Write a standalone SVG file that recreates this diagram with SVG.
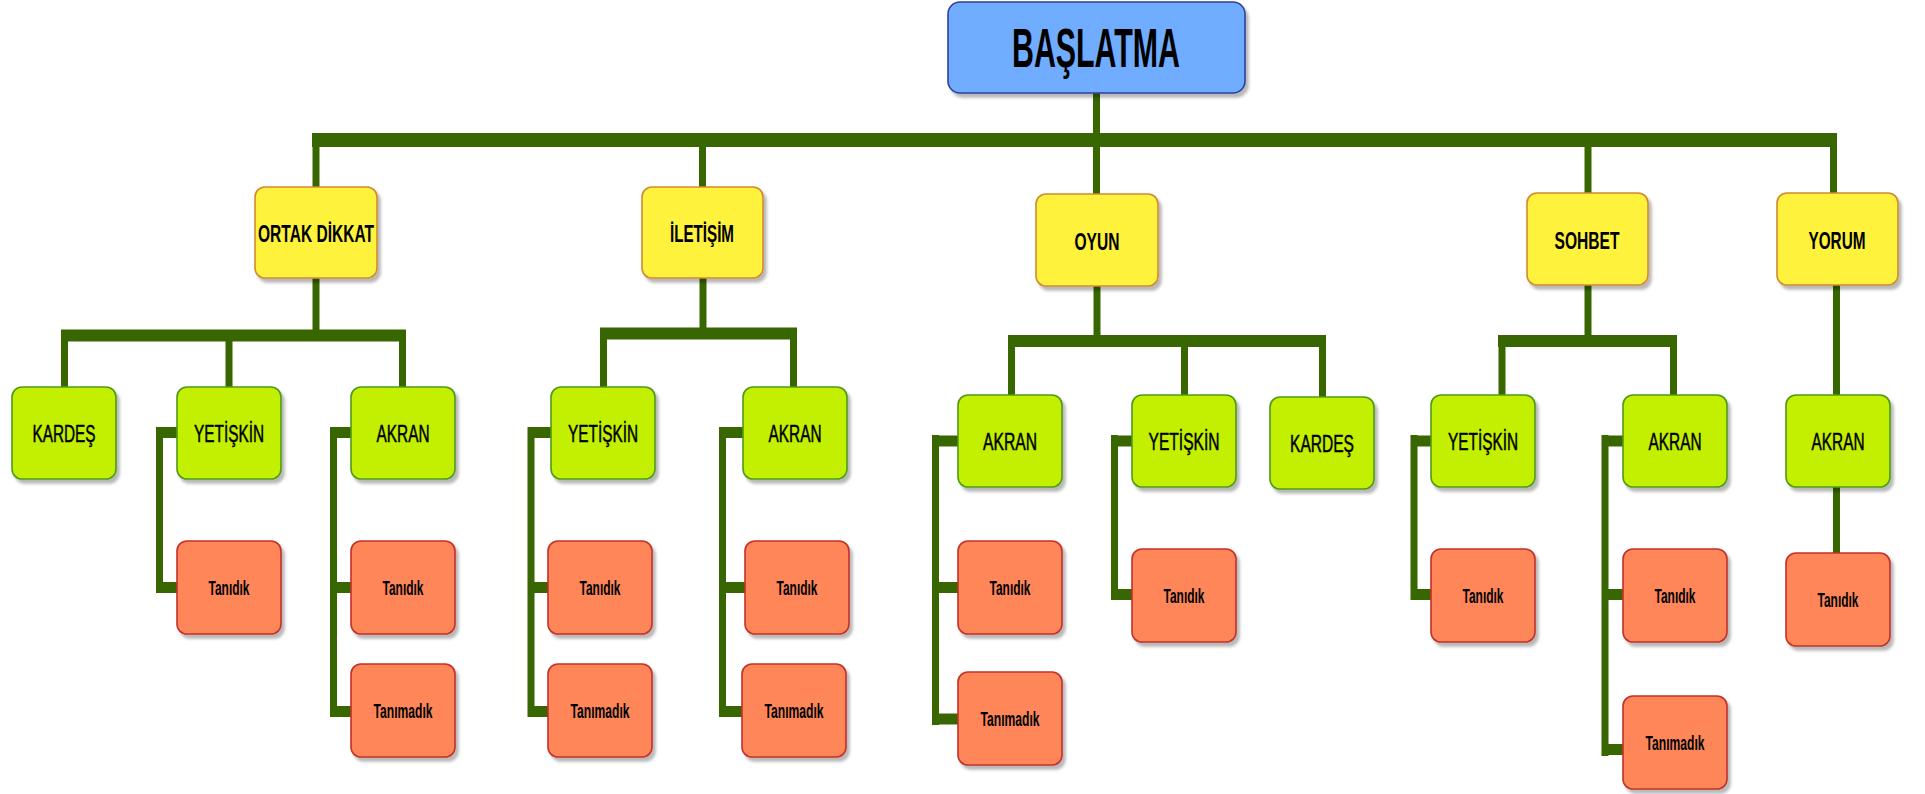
<svg xmlns="http://www.w3.org/2000/svg" width="1925" height="794" viewBox="0 0 1925 794">
  <defs>
    <filter id="shadow" x="-10%" y="-10%" width="130%" height="130%">
      <feDropShadow dx="3" dy="4" stdDeviation="1.5" flood-color="#000" flood-opacity="0.28"/>
    </filter>
  </defs>
  <style>
    .box { filter: url(#shadow); stroke-width: 1.6; }
    .root { fill: #70acff; stroke: #2f3f9c; }
    .lvl1 { fill: #fff23c; stroke: #cf8a32; }
    .lvl2 { fill: #c2f000; stroke: #4f9a1c; }
    .lvl3 { fill: #ff8658; stroke: #c4302a; }
    text { font-family: "Liberation Sans", Arial, sans-serif; fill: #000; text-anchor: middle; }
    .t0 { font-size: 56px; font-weight: bold; }
    .t1 { font-size: 23px; font-weight: bold; }
    .t2 { font-size: 24px; font-weight: normal; stroke: #000; stroke-width: 0.5; }
    .t3 { font-size: 21px; font-weight: bold; }
    #connectors path { fill: none; stroke: #386600; stroke-linecap: butt; }
    .bus { stroke-width: 14; }
    .sub { stroke-width: 12; }
    .v { stroke-width: 7; }
    .h { stroke-width: 11; }
  </style>

  <!-- connector lines -->
  <g id="connectors">
    <!-- top level -->
    <path class="v" d="M1096.5 93 V195"/>
    <path class="bus" d="M312 140 H1837"/>
    <path class="v" d="M316 140 V187"/>
    <path class="v" d="M702.5 140 V187"/>
    <path class="v" d="M1588 140 V193"/>
    <path class="v" d="M1833.5 140 V193"/>

    <!-- ORTAK DİKKAT branch -->
    <path class="v" d="M316 278 V336"/>
    <path class="sub" d="M61 335.5 H406"/>
    <path class="v" d="M64.5 336 V387"/>
    <path class="v" d="M229 336 V387"/>
    <path class="v" d="M402.5 336 V387"/>
    <path class="v" d="M159.5 427 V593"/>
    <path class="h" d="M156 432.5 H177"/>
    <path class="h" d="M156 587.5 H177"/>
    <path class="v" d="M333.5 427 V717"/>
    <path class="h" d="M330 432.5 H351"/>
    <path class="h" d="M330 587.5 H351"/>
    <path class="h" d="M330 711.5 H351"/>

    <!-- İLETİŞİM branch -->
    <path class="v" d="M703 278 V333"/>
    <path class="sub" d="M600 333.5 H797"/>
    <path class="v" d="M603.5 334 V387"/>
    <path class="v" d="M793.5 334 V387"/>
    <path class="v" d="M531 427 V717"/>
    <path class="h" d="M528 432.5 H551"/>
    <path class="h" d="M528 587.5 H548"/>
    <path class="h" d="M528 711.5 H548"/>
    <path class="v" d="M722.5 427 V717"/>
    <path class="h" d="M719 432.5 H743"/>
    <path class="h" d="M719 587.5 H745"/>
    <path class="h" d="M719 711.5 H742"/>

    <!-- OYUN branch -->
    <path class="v" d="M1097 286 V341"/>
    <path class="sub" d="M1008 341 H1326"/>
    <path class="v" d="M1011.5 341 V395"/>
    <path class="v" d="M1184.5 341 V395"/>
    <path class="v" d="M1322.5 341 V397"/>
    <path class="v" d="M935.5 435 V725"/>
    <path class="h" d="M932 441 H958"/>
    <path class="h" d="M932 587.5 H958"/>
    <path class="h" d="M932 719 H958"/>
    <path class="v" d="M1114.5 435 V600"/>
    <path class="h" d="M1111 441 H1132"/>
    <path class="h" d="M1111 594.5 H1132"/>

    <!-- SOHBET branch -->
    <path class="v" d="M1588 285 V341"/>
    <path class="sub" d="M1498 341 H1677"/>
    <path class="v" d="M1502 341 V395"/>
    <path class="v" d="M1673.5 341 V395"/>
    <path class="v" d="M1414 435 V600"/>
    <path class="h" d="M1411 441 H1431"/>
    <path class="h" d="M1411 594.5 H1431"/>
    <path class="v" d="M1605 435 V756"/>
    <path class="h" d="M1602 441 H1623"/>
    <path class="h" d="M1602 594.5 H1623"/>
    <path class="h" d="M1602 749.5 H1623"/>

    <!-- YORUM branch -->
    <path class="v" d="M1836.5 285 V395"/>
    <path class="v" d="M1836.5 487 V553"/>
  </g>

  <!-- root -->
  <g id="baslatma">
    <rect class="box root" x="948" y="2" width="297" height="91" rx="12"/>
    <text class="t0" x="1096" y="67" textLength="168" lengthAdjust="spacingAndGlyphs">BAŞLATMA</text>
  </g>

  <!-- first level -->
  <g id="ortak-dikkat">
    <rect class="box lvl1" x="255" y="187" width="122" height="91" rx="10"/>
    <text class="t1" x="316" y="242" textLength="116" lengthAdjust="spacingAndGlyphs">ORTAK DİKKAT</text>
  </g>
  <g id="iletisim">
    <rect class="box lvl1" x="642" y="187" width="121" height="91" rx="10"/>
    <text class="t1" x="702" y="242" textLength="64" lengthAdjust="spacingAndGlyphs">İLETİŞİM</text>
  </g>
  <g id="oyun">
    <rect class="box lvl1" x="1036" y="194" width="122" height="92" rx="10"/>
    <text class="t1" x="1097" y="250" textLength="45" lengthAdjust="spacingAndGlyphs">OYUN</text>
  </g>
  <g id="sohbet">
    <rect class="box lvl1" x="1527" y="193" width="121" height="92" rx="10"/>
    <text class="t1" x="1587" y="248.5" textLength="65" lengthAdjust="spacingAndGlyphs">SOHBET</text>
  </g>
  <g id="yorum">
    <rect class="box lvl1" x="1777" y="193" width="121" height="92" rx="10"/>
    <text class="t1" x="1837" y="248.5" textLength="57" lengthAdjust="spacingAndGlyphs">YORUM</text>
  </g>

  <!-- second level -->
  <g id="ortak-kardes">
    <rect class="box lvl2" x="12" y="387" width="104" height="92" rx="10"/>
    <text class="t2" x="64" y="442" textLength="63" lengthAdjust="spacingAndGlyphs">KARDEŞ</text>
  </g>
  <g id="ortak-yetiskin">
    <rect class="box lvl2" x="177" y="387" width="104" height="92" rx="10"/>
    <text class="t2" x="229" y="442" textLength="70" lengthAdjust="spacingAndGlyphs">YETİŞKİN</text>
  </g>
  <g id="ortak-akran">
    <rect class="box lvl2" x="351" y="387" width="104" height="92" rx="10"/>
    <text class="t2" x="403" y="442" textLength="53" lengthAdjust="spacingAndGlyphs">AKRAN</text>
  </g>
  <g id="iletisim-yetiskin">
    <rect class="box lvl2" x="551" y="387" width="104" height="92" rx="10"/>
    <text class="t2" x="603" y="442" textLength="70" lengthAdjust="spacingAndGlyphs">YETİŞKİN</text>
  </g>
  <g id="iletisim-akran">
    <rect class="box lvl2" x="743" y="387" width="104" height="92" rx="10"/>
    <text class="t2" x="795" y="442" textLength="53" lengthAdjust="spacingAndGlyphs">AKRAN</text>
  </g>
  <g id="oyun-akran">
    <rect class="box lvl2" x="958" y="395" width="104" height="92" rx="10"/>
    <text class="t2" x="1010" y="450" textLength="54" lengthAdjust="spacingAndGlyphs">AKRAN</text>
  </g>
  <g id="oyun-yetiskin">
    <rect class="box lvl2" x="1132" y="395" width="104" height="92" rx="10"/>
    <text class="t2" x="1184" y="450" textLength="71" lengthAdjust="spacingAndGlyphs">YETİŞKİN</text>
  </g>
  <g id="oyun-kardes">
    <rect class="box lvl2" x="1270" y="397" width="104" height="92" rx="10"/>
    <text class="t2" x="1322" y="452" textLength="64" lengthAdjust="spacingAndGlyphs">KARDEŞ</text>
  </g>
  <g id="sohbet-yetiskin">
    <rect class="box lvl2" x="1431" y="395" width="104" height="92" rx="10"/>
    <text class="t2" x="1483" y="450" textLength="70" lengthAdjust="spacingAndGlyphs">YETİŞKİN</text>
  </g>
  <g id="sohbet-akran">
    <rect class="box lvl2" x="1623" y="395" width="104" height="92" rx="10"/>
    <text class="t2" x="1675" y="450" textLength="53" lengthAdjust="spacingAndGlyphs">AKRAN</text>
  </g>
  <g id="yorum-akran">
    <rect class="box lvl2" x="1786" y="395" width="104" height="92" rx="10"/>
    <text class="t2" x="1838" y="450" textLength="53" lengthAdjust="spacingAndGlyphs">AKRAN</text>
  </g>

  <!-- third level -->
  <g id="ortak-yetiskin-tanidik">
    <rect class="box lvl3" x="177" y="541" width="104" height="93" rx="10"/>
    <text class="t3" x="229" y="595" textLength="41" lengthAdjust="spacingAndGlyphs">Tanıdık</text>
  </g>
  <g id="ortak-akran-tanidik">
    <rect class="box lvl3" x="351" y="541" width="104" height="93" rx="10"/>
    <text class="t3" x="403" y="595" textLength="41" lengthAdjust="spacingAndGlyphs">Tanıdık</text>
  </g>
  <g id="ortak-akran-tanimadik">
    <rect class="box lvl3" x="351" y="664" width="104" height="93" rx="10"/>
    <text class="t3" x="403" y="718" textLength="59" lengthAdjust="spacingAndGlyphs">Tanımadık</text>
  </g>
  <g id="iletisim-yetiskin-tanidik">
    <rect class="box lvl3" x="548" y="541" width="104" height="93" rx="10"/>
    <text class="t3" x="600" y="595" textLength="41" lengthAdjust="spacingAndGlyphs">Tanıdık</text>
  </g>
  <g id="iletisim-yetiskin-tanimadik">
    <rect class="box lvl3" x="548" y="664" width="104" height="93" rx="10"/>
    <text class="t3" x="600" y="718" textLength="59" lengthAdjust="spacingAndGlyphs">Tanımadık</text>
  </g>
  <g id="iletisim-akran-tanidik">
    <rect class="box lvl3" x="745" y="541" width="104" height="93" rx="10"/>
    <text class="t3" x="797" y="595" textLength="41" lengthAdjust="spacingAndGlyphs">Tanıdık</text>
  </g>
  <g id="iletisim-akran-tanimadik">
    <rect class="box lvl3" x="742" y="664" width="104" height="93" rx="10"/>
    <text class="t3" x="794" y="718" textLength="59" lengthAdjust="spacingAndGlyphs">Tanımadık</text>
  </g>
  <g id="oyun-akran-tanidik">
    <rect class="box lvl3" x="958" y="541" width="104" height="93" rx="10"/>
    <text class="t3" x="1010" y="595" textLength="41" lengthAdjust="spacingAndGlyphs">Tanıdık</text>
  </g>
  <g id="oyun-akran-tanimadik">
    <rect class="box lvl3" x="958" y="672" width="104" height="93" rx="10"/>
    <text class="t3" x="1010" y="726" textLength="59" lengthAdjust="spacingAndGlyphs">Tanımadık</text>
  </g>
  <g id="oyun-yetiskin-tanidik">
    <rect class="box lvl3" x="1132" y="549" width="104" height="93" rx="10"/>
    <text class="t3" x="1184" y="603" textLength="41" lengthAdjust="spacingAndGlyphs">Tanıdık</text>
  </g>
  <g id="sohbet-yetiskin-tanidik">
    <rect class="box lvl3" x="1431" y="549" width="104" height="93" rx="10"/>
    <text class="t3" x="1483" y="603" textLength="41" lengthAdjust="spacingAndGlyphs">Tanıdık</text>
  </g>
  <g id="sohbet-akran-tanidik">
    <rect class="box lvl3" x="1623" y="549" width="104" height="93" rx="10"/>
    <text class="t3" x="1675" y="603" textLength="41" lengthAdjust="spacingAndGlyphs">Tanıdık</text>
  </g>
  <g id="sohbet-akran-tanimadik">
    <rect class="box lvl3" x="1623" y="696" width="104" height="93" rx="10"/>
    <text class="t3" x="1675" y="750" textLength="59" lengthAdjust="spacingAndGlyphs">Tanımadık</text>
  </g>
  <g id="yorum-akran-tanidik">
    <rect class="box lvl3" x="1786" y="553" width="104" height="93" rx="10"/>
    <text class="t3" x="1838" y="607" textLength="41" lengthAdjust="spacingAndGlyphs">Tanıdık</text>
  </g>
</svg>
